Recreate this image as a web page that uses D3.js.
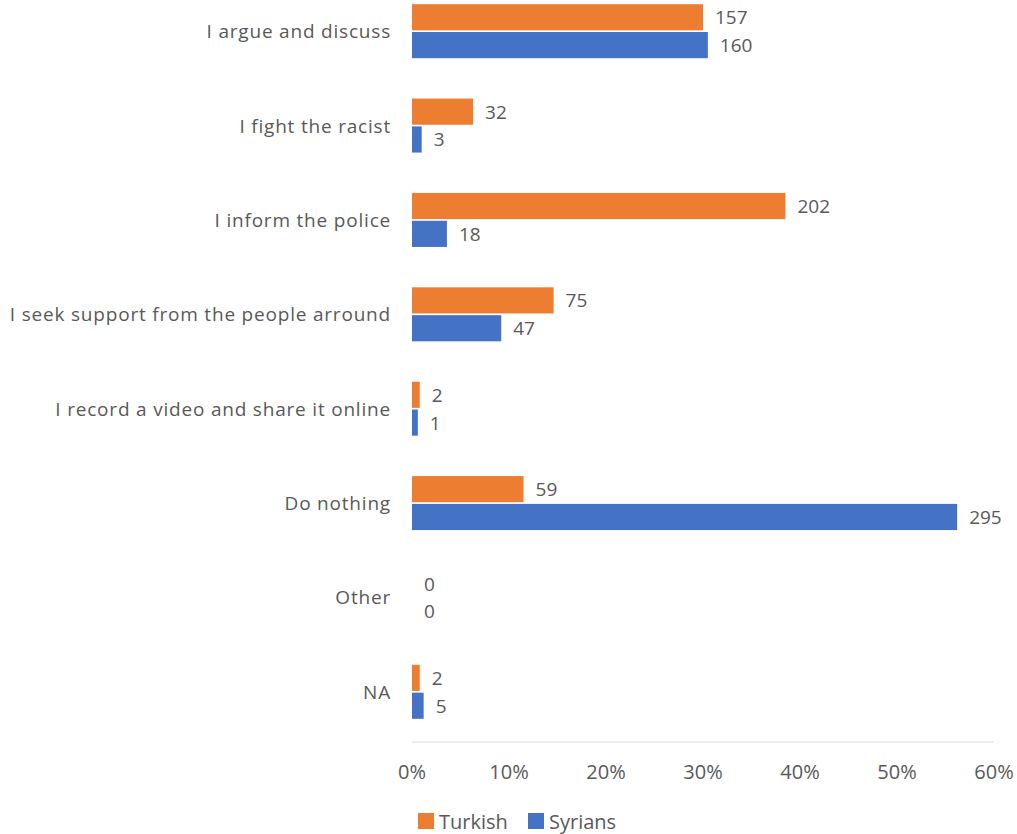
<!DOCTYPE html>
<html><head><meta charset="utf-8">
<script src="https://cdn.jsdelivr.net/npm/d3@7"></script>
<style>body{margin:0;background:#fff}svg{display:block}text{font-family:"Open Sans",sans-serif;fill:#595959}</style>
</head><body><svg id="c" width="1017" height="834"></svg>
<script>
const categories = ["I argue and discuss","I fight the racist","I inform the police","I seek support from the people arround","I record a video and share it online","Do nothing","Other","NA"];
const seriesNames = ["Turkish","Syrians"];
const turkishCounts = [157,32,202,75,2,59,0,2];
const syrianCounts = [160,3,18,47,1,295,0,5];
// visible bar lengths (%)
const turkishPct = [30.0,6.3,38.5,14.6,0.8,11.5,0,0.8];
const syrianPct = [30.5,1.0,3.6,9.2,0.6,56.2,0,1.2];
const tickValues = [0,10,20,30,40,50,60];
const colors = ["#ED7D31","#4472C4"];

const svg = d3.select("#c");
const x = d3.scaleLinear().domain([0,60]).range([412,994]);
const y = d3.scaleBand().domain(categories).range([-16,739]);
const sub = d3.scaleBand().domain(seriesNames).range([0,54]).paddingInner(0.06);
const yOff = (y.bandwidth()-54)/2;

const data = categories.map((c,i)=>({c, vals:[
  {s:"Turkish", pct:turkishPct[i], n:turkishCounts[i]},
  {s:"Syrians", pct:syrianPct[i], n:syrianCounts[i]}]}));

// axis line
svg.append("line").attr("x1",x(0)).attr("x2",x(60)).attr("y1",742).attr("y2",742)
  .attr("stroke","#d9d9d9").attr("stroke-width",1);

// tick labels
svg.selectAll("text.tick").data(tickValues).join("text").attr("class","tick")
  .attr("x",d=>x(d)).attr("y",779).attr("text-anchor","middle")
  .style("font-size","20px").text(d=>d+"%");

// category labels
svg.selectAll("text.cat").data(categories).join("text").attr("class","cat")
  .attr("x",391).attr("y",d=>y(d)+y.bandwidth()/2+7).attr("text-anchor","end")
  .style("font-size","19px").style("letter-spacing","0.8px").text(d=>d);

const g = svg.selectAll("g.grp").data(data).join("g").attr("class","grp")
  .attr("transform",d=>`translate(0,${y(d.c)+yOff})`);
g.selectAll("rect").data(d=>d.vals).join("rect")
  .attr("x",x(0)).attr("y",d=>sub(d.s)).attr("height",sub.bandwidth())
  .attr("width",d=>x(d.pct)-x(0)).attr("fill",(d,i)=>colors[i]);
g.selectAll("text.val").data(d=>d.vals).join("text").attr("class","val")
  .attr("x",d=>x(d.pct)+12).attr("y",d=>sub(d.s)+sub.bandwidth()/2+7)
  .style("font-size","19px").text(d=>d.n);

// legend
const leg = svg.append("g").attr("transform","translate(418,813)");
const li = leg.selectAll("g").data(seriesNames).join("g")
  .attr("transform",(d,i)=>`translate(${i*110},0)`);
li.append("rect").attr("width",16).attr("height",16).attr("y",0).attr("fill",(d,i)=>colors[i]);
li.append("text").attr("x",21).attr("y",16).style("font-size","20px").text(d=>d);
</script></body></html>
